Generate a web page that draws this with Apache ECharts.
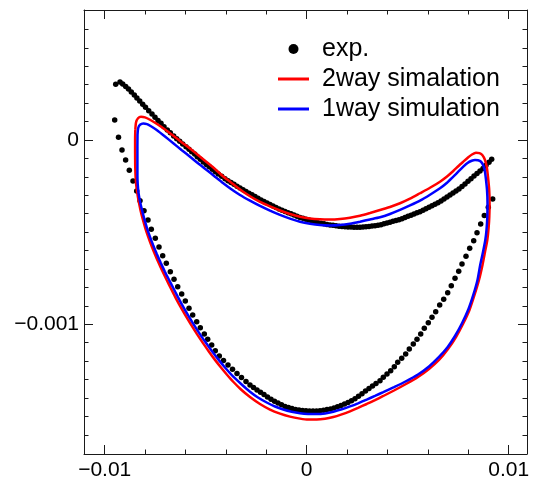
<!DOCTYPE html>
<html><head><meta charset="utf-8">
<script src="https://cdn.jsdelivr.net/npm/echarts@6/dist/echarts.min.js"></script>
<style>html,body{margin:0;padding:0;background:#fff}#c{width:533px;height:483px}</style>
</head><body><div id="c"></div>
<script>
// ---- data ----
const expX = [-9.455e-3,-9.243e-3,-9.109e-3,-8.960e-3,-8.822e-3,-8.683e-3,-8.535e-3,-8.406e-3,-8.267e-3,-8.119e-3,
-7.980e-3,-7.822e-3,-7.658e-3,-7.510e-3,-7.361e-3,-7.213e-3,-7.064e-3,-6.901e-3,-6.752e-3,-6.584e-3,
-6.436e-3,-6.287e-3,-6.139e-3,-5.975e-3,-5.827e-3,-5.693e-3,-5.545e-3,-5.416e-3,-5.267e-3,-5.119e-3,
-4.970e-3,-4.822e-3,-4.673e-3,-4.525e-3,-4.376e-3,-4.208e-3,-4.045e-3,-3.896e-3,-3.748e-3,-3.599e-3,
-3.450e-3,-3.302e-3,-3.153e-3,-3.005e-3,-2.856e-3,-2.708e-3,-2.559e-3,-2.411e-3,-2.262e-3,-2.114e-3,
-1.965e-3,-1.817e-3,-1.668e-3,-1.520e-3,-1.371e-3,-1.223e-3,-1.074e-3,-0.926e-3,-0.777e-3,-0.629e-3,
-0.480e-3,-0.332e-3,-0.183e-3,-0.035e-3,0.114e-3,0.262e-3,0.411e-3,0.559e-3,0.708e-3,0.856e-3,
1.005e-3,1.153e-3,1.302e-3,1.450e-3,1.599e-3,1.748e-3,1.896e-3,2.045e-3,2.193e-3,2.342e-3,
2.490e-3,2.639e-3,2.787e-3,2.936e-3,3.084e-3,3.233e-3,3.381e-3,3.530e-3,3.678e-3,3.827e-3,
3.975e-3,4.124e-3,4.272e-3,4.421e-3,4.569e-3,4.718e-3,4.866e-3,5.015e-3,5.163e-3,5.312e-3,
5.460e-3,5.609e-3,5.757e-3,5.906e-3,6.054e-3,6.203e-3,6.351e-3,6.500e-3,6.649e-3,6.797e-3,
6.946e-3,7.094e-3,7.243e-3,7.391e-3,7.540e-3,7.688e-3,7.837e-3,7.985e-3,8.134e-3,8.282e-3,
8.431e-3,8.579e-3,8.728e-3,8.876e-3,9.025e-3,9.158e-3,
9.208e-3,8.990e-3,8.792e-3,8.614e-3,8.431e-3,8.267e-3,8.069e-3,7.886e-3,7.688e-3,7.525e-3,
7.342e-3,7.158e-3,6.980e-3,6.782e-3,6.584e-3,6.386e-3,6.203e-3,6.020e-3,5.822e-3,5.644e-3,
5.460e-3,5.277e-3,5.079e-3,4.901e-3,4.703e-3,4.505e-3,4.337e-3,4.158e-3,3.975e-3,3.792e-3,3.629e-3,
3.431e-3,3.257e-3,3.084e-3,2.911e-3,2.738e-3,2.564e-3,2.391e-3,2.218e-3,2.045e-3,1.871e-3,
1.698e-3,1.525e-3,1.351e-3,1.178e-3,1.005e-3,0.832e-3,0.658e-3,0.485e-3,0.312e-3,0.139e-3,
-0.035e-3,-0.208e-3,-0.381e-3,-0.554e-3,-0.728e-3,-0.901e-3,-1.074e-3,-1.248e-3,-1.421e-3,-1.594e-3,
-1.767e-3,-1.941e-3,-2.114e-3,-2.287e-3,-2.460e-3,-2.634e-3,-2.807e-3,
-3.005e-3,-3.228e-3,-3.450e-3,-3.673e-3,-3.896e-3,-4.119e-3,-4.327e-3,-4.525e-3,-4.703e-3,-4.901e-3,
-5.069e-3,-5.267e-3,-5.446e-3,-5.644e-3,-5.827e-3,-6.010e-3,-6.188e-3,-6.386e-3,-6.569e-3,-6.752e-3,
-6.950e-3,-7.129e-3,-7.312e-3,-7.495e-3,-7.693e-3,-7.856e-3,-8.054e-3,-8.252e-3,-8.416e-3,-8.599e-3,
-8.782e-3,-8.965e-3,-9.144e-3,-9.317e-3,-9.505e-3];
const expY = [0.3022e-3,0.3147e-3,0.3039e-3,0.2903e-3,0.2767e-3,0.2604e-3,0.2442e-3,0.2279e-3,0.2116e-3,0.1937e-3,
0.1774e-3,0.1590e-3,0.1411e-3,0.1232e-3,0.1058e-3,0.0906e-3,0.0722e-3,0.0543e-3,0.0396e-3,0.0217e-3,
0.0071e-3,-0.0071e-3,-0.0217e-3,-0.0364e-3,-0.0505e-3,-0.0635e-3,-0.0760e-3,-0.0906e-3,-0.1047e-3,-0.1194e-3,
-0.1329e-3,-0.1454e-3,-0.1590e-3,-0.1720e-3,-0.1845e-3,-0.1970e-3,-0.2100e-3,-0.2214e-3,-0.2311e-3,-0.2409e-3,
-0.2507e-3,-0.2604e-3,-0.2697e-3,-0.2794e-3,-0.2887e-3,-0.2979e-3,-0.3071e-3,-0.3169e-3,-0.3256e-3,-0.3337e-3,
-0.3418e-3,-0.3500e-3,-0.3581e-3,-0.3662e-3,-0.3744e-3,-0.3814e-3,-0.3880e-3,-0.3945e-3,-0.4010e-3,-0.4075e-3,
-0.4140e-3,-0.4205e-3,-0.4254e-3,-0.4297e-3,-0.4346e-3,-0.4395e-3,-0.4438e-3,-0.4487e-3,-0.4525e-3,-0.4552e-3,
-0.4580e-3,-0.4607e-3,-0.4634e-3,-0.4661e-3,-0.4688e-3,-0.4699e-3,-0.4710e-3,-0.4721e-3,-0.4726e-3,-0.4731e-3,
-0.4737e-3,-0.4737e-3,-0.4726e-3,-0.4710e-3,-0.4693e-3,-0.4672e-3,-0.4650e-3,-0.4628e-3,-0.4596e-3,-0.4552e-3,
-0.4503e-3,-0.4460e-3,-0.4417e-3,-0.4373e-3,-0.4330e-3,-0.4270e-3,-0.4205e-3,-0.4145e-3,-0.4080e-3,-0.4015e-3,
-0.3955e-3,-0.3890e-3,-0.3809e-3,-0.3728e-3,-0.3646e-3,-0.3565e-3,-0.3483e-3,-0.3402e-3,-0.3310e-3,-0.3201e-3,
-0.3093e-3,-0.2984e-3,-0.2876e-3,-0.2767e-3,-0.2659e-3,-0.2528e-3,-0.2387e-3,-0.2241e-3,-0.2100e-3,-0.1959e-3,
-0.1823e-3,-0.1687e-3,-0.1552e-3,-0.1378e-3,-0.1205e-3,-0.1047e-3,
-0.3201e-3,-0.3652e-3,-0.4097e-3,-0.4558e-3,-0.5030e-3,-0.5464e-3,-0.5876e-3,-0.6310e-3,-0.6728e-3,-0.7124e-3,
-0.7504e-3,-0.7906e-3,-0.8285e-3,-0.8644e-3,-0.8953e-3,-0.9316e-3,-0.9620e-3,-0.9913e-3,-1.0217e-3,-1.0526e-3,
-1.0814e-3,-1.1069e-3,-1.1340e-3,-1.1611e-3,-1.1845e-3,-1.2062e-3,-1.2301e-3,-1.2518e-3,-1.2697e-3,-1.2876e-3,-1.3060e-3,
-1.3212e-3,-1.3348e-3,-1.3478e-3,-1.3619e-3,-1.3766e-3,-1.3907e-3,-1.4037e-3,-1.4151e-3,-1.4243e-3,-1.4324e-3,
-1.4406e-3,-1.4476e-3,-1.4541e-3,-1.4590e-3,-1.4628e-3,-1.4661e-3,-1.4688e-3,-1.4704e-3,-1.4710e-3,-1.4704e-3,
-1.4693e-3,-1.4677e-3,-1.4655e-3,-1.4617e-3,-1.4574e-3,-1.4520e-3,-1.4455e-3,-1.4368e-3,-1.4276e-3,-1.4178e-3,
-1.4070e-3,-1.3950e-3,-1.3814e-3,-1.3690e-3,-1.3565e-3,-1.3435e-3,-1.3293e-3,
-1.3104e-3,-1.2892e-3,-1.2675e-3,-1.2436e-3,-1.2208e-3,-1.1964e-3,-1.1720e-3,-1.1432e-3,-1.1123e-3,-1.0814e-3,
-1.0526e-3,-1.0184e-3,-0.9859e-3,-0.9495e-3,-0.9132e-3,-0.8736e-3,-0.8356e-3,-0.7960e-3,-0.7558e-3,-0.7146e-3,
-0.6690e-3,-0.6278e-3,-0.5806e-3,-0.5334e-3,-0.4845e-3,-0.4341e-3,-0.3836e-3,-0.3294e-3,-0.2767e-3,-0.2225e-3,
-0.1639e-3,-0.1085e-3,-0.0543e-3,0.0147e-3,0.1085e-3];

const twoWayX = [-8.485e-3,-8.450e-3,-8.351e-3,-8.203e-3,-8.005e-3,-7.757e-3,-7.411e-3,-7.015e-3,-6.619e-3,-6.223e-3,
-5.777e-3,-5.381e-3,-4.960e-3,-4.540e-3,-4.144e-3,-3.748e-3,-3.302e-3,-2.807e-3,-2.312e-3,-1.817e-3,
-1.322e-3,-0.827e-3,-0.332e-3,0.163e-3,0.658e-3,1.153e-3,1.649e-3,2.144e-3,2.639e-3,3.134e-3,
3.629e-3,4.124e-3,4.619e-3,5.114e-3,5.609e-3,6.104e-3,6.599e-3,6.946e-3,7.257e-3,7.515e-3,
7.752e-3,7.985e-3,8.183e-3,8.381e-3,8.554e-3,8.703e-3,8.827e-3,8.916e-3,8.975e-3,9.035e-3,
9.054e-3,9.040e-3,9.005e-3,8.941e-3,8.827e-3,8.703e-3,8.530e-3,8.307e-3,8.059e-3,7.738e-3,
7.391e-3,6.995e-3,6.550e-3,6.054e-3,5.510e-3,4.916e-3,
4.322e-3,3.792e-3,3.381e-3,2.970e-3,2.540e-3,2.144e-3,1.698e-3,1.317e-3,0.906e-3,0.495e-3,
0.064e-3,-0.332e-3,-0.827e-3,-1.322e-3,-1.817e-3,-2.312e-3,-2.807e-3,-3.252e-3,-3.649e-3,
-3.946e-3,-4.243e-3,-4.540e-3,-4.837e-3,-5.134e-3,-5.431e-3,-5.728e-3,-6.025e-3,-6.322e-3,-6.520e-3,
-6.728e-3,-6.931e-3,-7.134e-3,-7.332e-3,-7.520e-3,-7.693e-3,-7.851e-3,-7.995e-3,-8.119e-3,-8.228e-3,
-8.317e-3,-8.391e-3,-8.446e-3,-8.475e-3,-8.490e-3,-8.495e-3,-8.495e-3,-8.485e-3];
const twoWayY = [0.0543e-3,0.0950e-3,0.1177e-3,0.1259e-3,0.1226e-3,0.1096e-3,0.0868e-3,0.0570e-3,0.0244e-3,-0.0092e-3,
-0.0461e-3,-0.0814e-3,-0.1194e-3,-0.1574e-3,-0.1970e-3,-0.2306e-3,-0.2686e-3,-0.3055e-3,-0.3364e-3,-0.3608e-3,
-0.3825e-3,-0.4015e-3,-0.4162e-3,-0.4259e-3,-0.4303e-3,-0.4314e-3,-0.4286e-3,-0.4216e-3,-0.4107e-3,-0.3961e-3,
-0.3798e-3,-0.3635e-3,-0.3435e-3,-0.3185e-3,-0.2892e-3,-0.2594e-3,-0.2263e-3,-0.1980e-3,-0.1682e-3,-0.1411e-3,
-0.1177e-3,-0.0950e-3,-0.0787e-3,-0.0695e-3,-0.0716e-3,-0.0830e-3,-0.1085e-3,-0.1465e-3,-0.2008e-3,-0.2713e-3,
-0.3418e-3,-0.4162e-3,-0.4775e-3,-0.5426e-3,-0.6077e-3,-0.6782e-3,-0.7596e-3,-0.8410e-3,-0.9224e-3,-0.9984e-3,
-1.0689e-3,-1.1340e-3,-1.1937e-3,-1.2425e-3,-1.2859e-3,-1.3239e-3,
-1.3592e-3,-1.3890e-3,-1.4113e-3,-1.4324e-3,-1.4536e-3,-1.4720e-3,-1.4900e-3,-1.5030e-3,-1.5127e-3,-1.5171e-3,
-1.5171e-3,-1.5117e-3,-1.5008e-3,-1.4845e-3,-1.4628e-3,-1.4324e-3,-1.3945e-3,-1.3538e-3,-1.3104e-3,
-1.2735e-3,-1.2344e-3,-1.1931e-3,-1.1487e-3,-1.1020e-3,-1.0532e-3,-1.0016e-3,-0.9474e-3,-0.8904e-3,-0.8502e-3,
-0.8047e-3,-0.7596e-3,-0.7135e-3,-0.6663e-3,-0.6186e-3,-0.5713e-3,-0.5241e-3,-0.4764e-3,-0.4286e-3,-0.3809e-3,
-0.3332e-3,-0.2854e-3,-0.2377e-3,-0.1899e-3,-0.1356e-3,-0.0651e-3,0,0.0543e-3];

const oneWayX = [-8.376e-3,-8.342e-3,-8.252e-3,-8.089e-3,-7.906e-3,-7.708e-3,-7.426e-3,-7.015e-3,-6.604e-3,-6.198e-3,
-5.777e-3,-5.381e-3,-4.951e-3,-4.540e-3,-4.129e-3,-3.748e-3,-3.302e-3,-2.807e-3,-2.312e-3,-1.817e-3,
-1.322e-3,-0.827e-3,-0.332e-3,0.163e-3,0.658e-3,1.153e-3,1.649e-3,2.144e-3,2.639e-3,3.134e-3,
3.629e-3,4.124e-3,4.619e-3,5.114e-3,5.609e-3,6.104e-3,6.599e-3,6.946e-3,7.257e-3,7.515e-3,
7.752e-3,7.960e-3,8.168e-3,8.332e-3,8.480e-3,8.629e-3,8.743e-3,8.827e-3,8.876e-3,8.926e-3,
8.951e-3,8.941e-3,8.901e-3,8.842e-3,8.728e-3,8.589e-3,8.455e-3,8.247e-3,8.010e-3,7.688e-3,
7.342e-3,6.980e-3,6.550e-3,6.054e-3,5.510e-3,4.891e-3,
4.322e-3,3.792e-3,3.381e-3,2.970e-3,2.540e-3,2.144e-3,1.733e-3,1.317e-3,0.906e-3,0.495e-3,
0.064e-3,-0.332e-3,-0.743e-3,-1.158e-3,-1.569e-3,-1.980e-3,-2.411e-3,-2.807e-3,-3.218e-3,-3.634e-3,
-4.045e-3,-4.356e-3,-4.668e-3,-4.980e-3,-5.287e-3,-5.589e-3,-5.891e-3,-6.188e-3,-6.386e-3,-6.599e-3,
-6.812e-3,-7.025e-3,-7.228e-3,-7.421e-3,-7.599e-3,-7.762e-3,-7.911e-3,-8.040e-3,-8.153e-3,-8.252e-3,
-8.327e-3,-8.366e-3,-8.381e-3,-8.381e-3,-8.381e-3,-8.376e-3];
const oneWayY = [0.0271e-3,0.0651e-3,0.0825e-3,0.0895e-3,0.0857e-3,0.0743e-3,0.0543e-3,0.0190e-3,-0.0179e-3,-0.0543e-3,
-0.0906e-3,-0.1264e-3,-0.1628e-3,-0.1991e-3,-0.2349e-3,-0.2659e-3,-0.2984e-3,-0.3294e-3,-0.3581e-3,-0.3836e-3,
-0.4069e-3,-0.4270e-3,-0.4433e-3,-0.4541e-3,-0.4612e-3,-0.4639e-3,-0.4612e-3,-0.4541e-3,-0.4433e-3,-0.4314e-3,
-0.4194e-3,-0.4015e-3,-0.3798e-3,-0.3554e-3,-0.3294e-3,-0.2973e-3,-0.2621e-3,-0.2322e-3,-0.1991e-3,-0.1709e-3,
-0.1449e-3,-0.1248e-3,-0.1129e-3,-0.1085e-3,-0.1101e-3,-0.1183e-3,-0.1384e-3,-0.1736e-3,-0.2170e-3,-0.2713e-3,
-0.3418e-3,-0.4162e-3,-0.4883e-3,-0.5426e-3,-0.6077e-3,-0.6782e-3,-0.7596e-3,-0.8410e-3,-0.9170e-3,-0.9946e-3,
-1.0635e-3,-1.1232e-3,-1.1774e-3,-1.2290e-3,-1.2724e-3,-1.3104e-3,
-1.3407e-3,-1.3679e-3,-1.3885e-3,-1.4086e-3,-1.4286e-3,-1.4455e-3,-1.4612e-3,-1.4742e-3,-1.4835e-3,-1.4872e-3,
-1.4867e-3,-1.4824e-3,-1.4742e-3,-1.4623e-3,-1.4460e-3,-1.4243e-3,-1.3972e-3,-1.3657e-3,-1.3266e-3,-1.2843e-3,
-1.2344e-3,-1.1931e-3,-1.1487e-3,-1.1020e-3,-1.0532e-3,-1.0016e-3,-0.9474e-3,-0.8904e-3,-0.8502e-3,-0.8047e-3,
-0.7596e-3,-0.7135e-3,-0.6663e-3,-0.6186e-3,-0.5713e-3,-0.5241e-3,-0.4764e-3,-0.4286e-3,-0.3809e-3,-0.3332e-3,
-0.2854e-3,-0.2377e-3,-0.1899e-3,-0.1085e-3,-0.0380e-3,0.0271e-3];

const seriesNames = ['exp.', '2way simalation', '1way simulation'];
const xLabelTicks = [-0.01, 0, 0.01];
const xMinorTicks = [-0.008, -0.006, -0.004, -0.002, 0.002, 0.004, 0.006, 0.008];
const yLabelTicks = [-0.001, 0];
const yMinorTicks = [-0.0016,-0.0015,-0.0014,-0.0013,-0.0012,-0.0011,-0.0009,-0.0008,-0.0007,-0.0006,-0.0005,
  -0.0004,-0.0003,-0.0002,-0.0001,0.0001,0.0002,0.0003,0.0004,0.0005,0.0006];

// ---- chart ----
const X_MIN = -0.011025, X_MAX = 0.010906, Y_MIN = -0.0017037, Y_MAX = 0.000705;
const FONT = "'Liberation Sans', Arial, Helvetica, sans-serif";
function fmt(v) { if (Math.abs(v) < 1e-12) return '0'; return (v < 0 ? '\u2212' : '') + String(Math.abs(v)); }
const FRAME = '#1a1a1a';

function mkAxis(dim, position, ticks, len, labels, line) {
  const isX = dim === 'x';
  return {
    type: 'value', position: position, offset: 0,
    min: isX ? X_MIN : Y_MIN, max: isX ? X_MAX : Y_MAX,
    axisLine: { show: line, onZero: false, lineStyle: { color: FRAME, width: 1 } },
    axisTick: { show: true, inside: true, length: len, customValues: ticks, lineStyle: { color: FRAME, width: 1 } },
    axisLabel: labels ? { show: true, customValues: isX ? xLabelTicks : yLabelTicks, formatter: fmt,
      color: '#000', fontSize: 21, fontFamily: FONT, margin: isX ? 6 : 5 } : { show: false },
    splitLine: { show: false }, minorTick: { show: false }, minorSplitLine: { show: false }
  };
}

const pairs = (xs, ys) => xs.map((x, i) => [x, ys[i]]);
const lineIcon = 'path://M0,0H31V3H0Z';

const chart = echarts.init(document.getElementById('c'), null, { renderer: 'canvas' });
chart.setOption({
  animation: false,
  backgroundColor: '#fff',
  grid: { left: 84, top: 10, width: 443, height: 444, containLabel: false },
  xAxis: [
    mkAxis('x', 'bottom', xLabelTicks, 9, true, true),
    mkAxis('x', 'bottom', xMinorTicks, 4.5, false, false),
    mkAxis('x', 'top', xLabelTicks, 9, false, true),
    mkAxis('x', 'top', xMinorTicks, 4.5, false, false)
  ],
  yAxis: [
    mkAxis('y', 'left', yLabelTicks, 9, true, true),
    mkAxis('y', 'left', yMinorTicks, 4.5, false, false),
    mkAxis('y', 'right', yLabelTicks, 9, false, true),
    mkAxis('y', 'right', yMinorTicks, 4.5, false, false)
  ],
  legend: {
    orient: 'vertical', left: 278, top: 34, padding: 0, itemGap: 0,
    itemWidth: 31, itemHeight: 10,
    textStyle: { fontSize: 25, fontFamily: FONT, color: '#000', lineHeight: 30, padding: [0, 0, 0, 8] },
    data: [
      { name: seriesNames[0], icon: 'circle', itemStyle: { borderWidth: 0, opacity: 1 } },
      { name: seriesNames[1], icon: lineIcon, itemStyle: { borderWidth: 0 } },
      { name: seriesNames[2], icon: lineIcon, itemStyle: { borderWidth: 0 } }
    ]
  },
  series: [
    { name: seriesNames[0], type: 'scatter', xAxisIndex: 0, yAxisIndex: 0,
      data: pairs(expX, expY), symbol: 'circle', symbolSize: 5.5,
      itemStyle: { color: '#000', opacity: 1 }, z: 2 },
    { name: seriesNames[1], type: 'line', xAxisIndex: 0, yAxisIndex: 0,
      data: pairs(twoWayX, twoWayY), showSymbol: false, symbol: 'none', smooth: 0.2,
      lineStyle: { color: '#ff0000', width: 2.5 }, itemStyle: { color: '#ff0000' }, z: 3 },
    { name: seriesNames[2], type: 'line', xAxisIndex: 0, yAxisIndex: 0,
      data: pairs(oneWayX, oneWayY), showSymbol: false, symbol: 'none', smooth: 0.2,
      lineStyle: { color: '#0000ff', width: 2.5 }, itemStyle: { color: '#0000ff' }, z: 4 }
  ]
});
</script>
</body></html>
